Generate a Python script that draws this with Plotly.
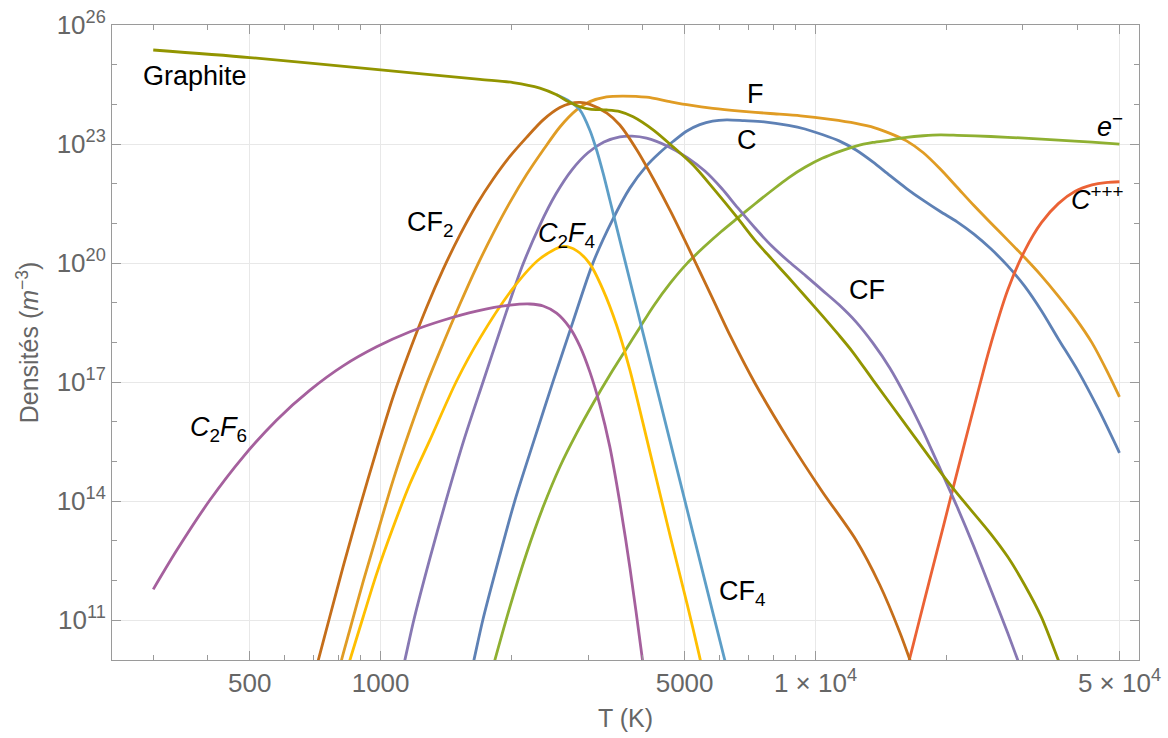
import math
import plotly.graph_objects as go

# ---------------- data (T in K, log10 of density in m^-3) ----------------
T_C = [1615, 1639, 1719, 1871, 2035, 2251, 2489, 2768, 3077, 3403, 3742, 4088, 4382, 4710, 5061, 5419, 5799, 6248, 6856, 7623,
       8667, 9455, 10361, 11331, 12393, 13545, 14815, 16196, 17703, 19362, 21167, 23138, 25303, 27672, 30264, 33076, 36170, 40260, 44826, 50000]
N_C = [9.7, 10.0, 11.02, 12.56, 14.01, 15.52, 17.0, 18.52, 20.0, 21.06, 21.89, 22.45, 22.78, 23.07, 23.33, 23.49, 23.58, 23.61, 23.59, 23.56,
       23.47, 23.38, 23.24, 23.08, 22.85, 22.55, 22.21, 21.88, 21.58, 21.30, 21.04, 20.73, 20.36, 19.93, 19.42, 18.80, 18.09, 17.26, 16.30, 15.22]

T_F = [801, 813, 850, 912, 979, 1069, 1168, 1276, 1393, 1522, 1662, 1815, 1983, 2166, 2365, 2584, 2822, 3028, 3308, 3612,
       4088, 4624, 5146, 5807, 6713, 7868, 9240, 10823, 12382, 13688, 14834, 16196, 17703, 19362, 21167, 23138, 25303, 27672, 30264, 33076,
       36170, 39557, 43245, 46657, 50000]
N_F = [9.7, 10.0, 10.77, 11.98, 13.13, 14.54, 15.80, 16.96, 17.98, 18.97, 19.90, 20.75, 21.53, 22.23, 22.85, 23.43, 23.86, 24.07, 24.19, 24.21,
       24.18, 24.07, 23.98, 23.90, 23.83, 23.77, 23.71, 23.62, 23.52, 23.41, 23.27, 23.08, 22.78, 22.37, 21.91, 21.45, 21.01, 20.58, 20.14, 19.68,
       19.17, 18.62, 17.99, 17.31, 16.63]

T_E = [1800, 1831, 1983, 2166, 2365, 2584, 2822, 3082, 3366, 3678, 3946, 4243, 4639, 5073, 5546, 6064, 6629, 7253, 7935, 8667,
       9479, 10361, 11331, 12393, 13545, 14815, 16196, 17703, 19362, 21167, 25303, 30264, 36170, 43245, 50000]
N_E = [9.7, 10.0, 11.34, 12.69, 13.86, 14.87, 15.71, 16.47, 17.18, 17.85, 18.38, 18.92, 19.50, 20.0, 20.41, 20.79, 21.14, 21.49, 21.83, 22.15,
       22.42, 22.64, 22.81, 22.95, 23.04, 23.10, 23.17, 23.21, 23.23, 23.22, 23.19, 23.15, 23.10, 23.05, 23.0]

T_C3 = [16150, 16430, 17085, 18350, 19713, 20794, 21937, 23565, 25074, 27672, 30264, 33076, 36170, 39557, 43245, 46440, 50000]
N_C3 = [9.7, 10.0, 10.73, 12.07, 13.40, 14.40, 15.39, 16.70, 17.81, 19.32, 20.31, 21.02, 21.50, 21.81, 21.97, 22.03, 22.05]

T_CF = [1120, 1137, 1193, 1298, 1413, 1554, 1719, 1901, 2113, 2324, 2529, 2754, 2997, 3262, 3549, 3782, 4088, 4544, 5073, 5567,
        6089, 6629, 7253, 7935, 8680, 9501, 10361, 11331, 12393, 13545, 14822, 16196, 17703, 19362, 21167, 23138, 25303, 27672, 29178, 30280]
N_CF = [9.7, 10.0, 11.02, 12.56, 14.01, 15.54, 17.0, 18.44, 19.90, 20.96, 21.74, 22.35, 22.78, 23.05, 23.18, 23.20, 23.15, 22.96, 22.66, 22.32,
        21.88, 21.39, 20.89, 20.43, 20.04, 19.68, 19.32, 18.95, 18.52, 17.99, 17.36, 16.60, 15.75, 14.81, 13.86, 12.85, 11.77, 10.68, 10.0, 9.52]

T_CF2 = [707, 719, 764, 820, 896, 979, 1069, 1168, 1276, 1393, 1522, 1662, 1815, 1983, 2166, 2365, 2584, 2724, 2872, 3028,
         3314, 3549, 3884, 4250, 4650, 5195, 5776, 6387, 7253, 8682, 10340, 12382, 14058, 15624, 16650]
N_CF2 = [9.7, 10.0, 11.09, 12.35, 13.86, 15.29, 16.64, 17.81, 18.89, 19.85, 20.71, 21.47, 22.12, 22.69, 23.17, 23.61, 23.92, 24.02, 24.05, 24.00,
         23.78, 23.48, 22.85, 22.10, 21.29, 20.21, 19.15, 18.14, 16.98, 15.54, 14.26, 13.03, 11.89, 10.70, 9.87]

T_CF4 = [2539, 2724, 2872, 3028, 3138, 3249, 3366, 3658, 4022, 4477, 4983, 5546, 6176, 6287]
N_CF4 = [24.24, 24.07, 23.86, 23.35, 22.85, 22.26, 21.59, 20.0, 18.19, 16.15, 14.11, 12.07, 10.03, 9.71]

T_C2F4 = [834, 850, 912, 979, 1069, 1168, 1298, 1495, 1692, 2017, 2324, 2630, 2827, 3028, 3249, 3487, 3742, 4009, 4296, 4639, 5073, 5401, 5507]
N_C2F4 = [9.7, 10.0, 11.09, 12.17, 13.35, 14.44, 15.54, 17.03, 18.11, 19.37, 20.11, 20.42, 20.31, 19.98, 19.32, 18.44, 17.31, 15.98, 14.61, 13.10, 11.39, 10.13, 9.72]

T_C2F6 = [300, 340, 405, 483, 577, 688, 820, 979, 1168, 1393, 1662, 1983, 2204, 2365, 2539, 2724, 2872, 3028, 3192, 3366, 3549, 3744, 4001, 4040]
N_C2F6 = [11.78, 12.77, 14.03, 15.12, 16.05, 16.80, 17.41, 17.89, 18.27, 18.56, 18.79, 18.94, 18.97, 18.92, 18.74, 18.37, 17.91, 17.26, 16.43, 15.37, 13.96, 12.32, 10.0, 9.6]

T_GR = [300, 500, 1000, 1692, 2017, 2324, 2539, 2700, 2872, 3028, 3308, 3549, 3808, 4233, 4706, 5231, 5814, 6583, 7253, 7935,
        8680, 9479, 10340, 11313, 12181, 13548, 16196, 19362, 21123, 25293, 27670, 30270, 33076, 36170, 37070]
N_GR = [25.37, 25.18, 24.87, 24.63, 24.55, 24.41, 24.24, 24.07, 23.94, 23.88, 23.86, 23.82, 23.69, 23.36, 22.93, 22.47, 21.89, 21.17, 20.58, 20.10,
        19.63, 19.16, 18.69, 18.19, 17.76, 17.06, 15.90, 14.74, 14.21, 13.18, 12.60, 11.89, 11.08, 10.0, 9.7]

series = [
    ("C", T_C, N_C, "#5E81B5"),
    ("F", T_F, N_F, "#E09C24"),
    ("e-", T_E, N_E, "#8FB032"),
    ("C+++", T_C3, N_C3, "#EB6235"),
    ("CF", T_CF, N_CF, "#8778B3"),
    ("CF2", T_CF2, N_CF2, "#C56E1A"),
    ("CF4", T_CF4, N_CF4, "#5D9EC7"),
    ("C2F4", T_C2F4, N_C2F4, "#FFBF00"),
    ("C2F6", T_C2F6, N_C2F6, "#A5609D"),
    ("Graphite", T_GR, N_GR, "#929500"),
]

# curve labels: text, T, log10 density
label_text = ["Graphite", "F", "C", "<i>e</i><sup>−</sup>", "<i>C</i><sup>+++</sup>",
              "CF<sub>2</sub>", "<i>C</i><sub>2</sub><i>F</i><sub>4</sub>", "CF",
              "<i>C</i><sub>2</sub><i>F</i><sub>6</sub>", "CF<sub>4</sub>"]
label_T = [375, 7290, 6970, 47500, 44570, 1305, 2682, 13120, 423, 6812]
label_N = [24.715, 24.25, 23.115, 23.48, 21.64, 20.98, 20.72, 19.32, 15.82, 11.70]

x_major = [500, 1000, 5000, 10000, 50000]
x_major_text = ["500", "1000", "5000", "1 × 10<sup>4</sup>", "5 × 10<sup>4</sup>"]
x_minor = [300, 400, 600, 700, 800, 900, 2000, 3000, 4000, 6000, 7000, 8000, 9000,
           20000, 30000, 40000]
y_major = [1e11, 1e14, 1e17, 1e20, 1e23, 1e26]
y_major_text = ["10<sup>11</sup>", "10<sup>14</sup>", "10<sup>17</sup>",
                "10<sup>20</sup>", "10<sup>23</sup>", "10<sup>26</sup>"]
y_minor = [1e12, 1e13, 1e15, 1e16, 1e18, 1e19, 1e21, 1e22, 1e24, 1e25]

# ---------------- figure ----------------
FONT = "Liberation Sans, Arial, sans-serif"
fig = go.Figure()
for name, t, n, col in series:
    fig.add_trace(go.Scatter(
        x=t, y=[10 ** v for v in n], mode="lines", name=name,
        line=dict(color=col, width=2.8, shape="spline", smoothing=0.8),
        hoverinfo="skip", showlegend=False))

for txt, t, n in zip(label_text, label_T, label_N):
    fig.add_annotation(x=math.log10(t), y=n, xref="x", yref="y", text=txt,
                       showarrow=False, font=dict(family=FONT, size=27, color="black"),
                       xanchor="center", yanchor="middle")

axis_common = dict(
    showline=True, linecolor="#9a9a9a", linewidth=1, mirror="allticks",
    ticks="inside", ticklen=9, tickcolor="#9a9a9a", tickwidth=1,
    showgrid=True, gridcolor="#e8e8e8", gridwidth=1, zeroline=False,
    automargin=False,
    tickfont=dict(family=FONT, size=26, color="#666666"),
)

fig.update_xaxes(type="log", range=[2.3823, 4.7439], tickmode="array",
                 tickvals=x_major, ticktext=x_major_text,
                 minor=dict(tickmode="array", tickvals=x_minor, ticks="inside",
                            ticklen=5, tickcolor="#9a9a9a", showgrid=False),
                 title=dict(text="T (K)", font=dict(family=FONT, size=25, color="#666666"),
                            standoff=12),
                 **axis_common)
fig.update_yaxes(type="log", range=[10, 26], tickmode="array",
                 tickvals=y_major, ticktext=y_major_text,
                 minor=dict(tickmode="array", tickvals=y_minor, ticks="inside",
                            ticklen=5, tickcolor="#9a9a9a", showgrid=False),
                 title=dict(text="Densités (<i>m</i><sup>−3</sup>)",
                            font=dict(family=FONT, size=25, color="#666666"), standoff=10),
                 **axis_common)

fig.update_layout(width=1168, height=738, margin=dict(l=112, r=29, t=25, b=78),
                  paper_bgcolor="white", plot_bgcolor="white")

fig.write_html("out.html", config={"displayModeBar": False},
               post_script="document.body.style.margin='0';document.body.style.overflow='hidden';")
